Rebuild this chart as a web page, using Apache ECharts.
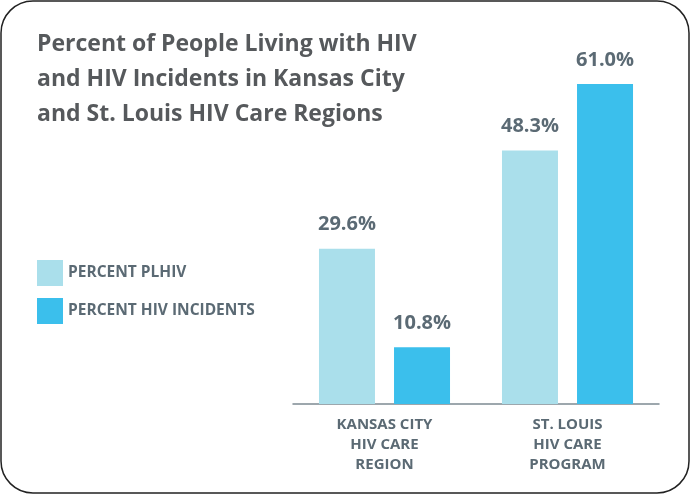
<!DOCTYPE html>
<html>
<head>
<meta charset="utf-8">
<script src="https://cdn.jsdelivr.net/npm/echarts@6/dist/echarts.min.js"></script>
<style>
  html, body { margin: 0; padding: 0; background: #fff; }
  #chart { width: 690px; height: 495px; }
</style>
</head>
<body>
<div id="chart"></div>
<script>
// data
var regions = ['KANSAS CITY\nHIV CARE\nREGION', 'ST. LOUIS\nHIV CARE\nPROGRAM'];
var seriesNames = ['PERCENT PLHIV', 'PERCENT HIV INCIDENTS'];
var plhiv = [29.6, 48.3];
var incidents = [10.8, 61.0];

var textGray = '#5b6a74';
var font = '"Open Sans", sans-serif';

var chart = echarts.init(document.getElementById('chart'));

function barLabel() {
  return {
    show: true,
    position: 'top',
    distance: 14,
    formatter: function (p) { return p.value.toFixed(1) + '%'; },
    color: textGray,
    fontFamily: font,
    fontWeight: 'bold',
    fontSize: 20
  };
}

chart.setOption({
  animation: false,
  title: {
    text: 'Percent of People Living with HIV\nand HIV Incidents in Kansas City\nand St. Louis HIV Care Regions',
    left: 32,
    top: 22,
    textStyle: {
      color: '#56595c',
      fontFamily: font,
      fontWeight: 'bold',
      fontSize: 23,
      lineHeight: 35
    }
  },
  legend: {
    orient: 'vertical',
    left: 32,
    top: 255,
    itemWidth: 26,
    itemHeight: 26,
    itemGap: 12,
    icon: 'rect',
    data: seriesNames,
    textStyle: {
      color: textGray,
      fontFamily: font,
      fontWeight: 'bold',
      fontSize: 15.5
    }
  },
  graphic: [{
    type: 'rect',
    shape: { x: 1, y: 1, width: 688, height: 492, r: 32 },
    style: { fill: 'none', stroke: '#222', lineWidth: 1.5 },
    silent: true
  }],
  grid: {
    left: 293,
    right: 31,
    top: 84,
    bottom: 91
  },
  xAxis: {
    type: 'category',
    data: regions,
    axisLine: { lineStyle: { color: '#7d8b93', width: 1.5 } },
    axisTick: { show: false },
    axisLabel: {
      color: textGray,
      fontFamily: font,
      fontWeight: 'bold',
      fontSize: 15,
      lineHeight: 20,
      margin: 11
    }
  },
  yAxis: {
    type: 'value',
    min: 0,
    max: 61,
    show: false,
    splitLine: { show: false }
  },
  series: [
    {
      name: seriesNames[0],
      type: 'bar',
      data: plhiv,
      barWidth: 56,
      barGap: '34%',
      itemStyle: { color: '#aadfeb' },
      label: barLabel()
    },
    {
      name: seriesNames[1],
      type: 'bar',
      data: incidents,
      barWidth: 56,
      itemStyle: { color: '#3bbfec' },
      label: barLabel()
    }
  ]
});
</script>
</body>
</html>
